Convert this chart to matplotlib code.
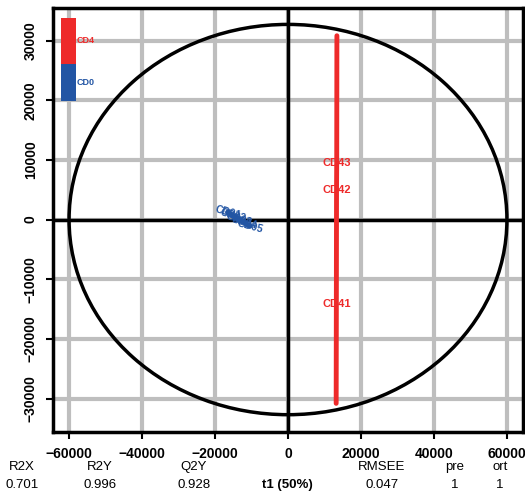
import matplotlib
matplotlib.use("Agg")
import matplotlib.pyplot as plt
from matplotlib.patches import Ellipse, Rectangle

plt.rcParams['font.family'] = ['Liberation Sans', 'DejaVu Sans']

# CD4 group (red): scores along the vertical band
cd4_t1 = [13400, 13350, 13300, 13250, 13200]
cd4_to1 = [30800, 9500, 5000, -14200, -30800]
cd4_labels = ["", "CD43", "CD42", "CD41", ""]

# CD0 group (blue): tight cluster left of the origin
cd0_t1 = [-16500, -15000, -13500, -12000, -10500]
cd0_to1 = [1200, 600, 0, -500, -1100]
cd0_labels = ["CD01", "CD02", "CD03", "CD04", "CD05"]

ticks_x = [-60000, -40000, -20000, 0, 20000, 40000, 60000]
ticks_y = [-30000, -20000, -10000, 0, 10000, 20000, 30000]

stat_names = ["R2X", "R2Y", "Q2Y", "RMSEE", "pre", "ort"]
stat_values = ["0.701", "0.996", "0.928", "0.047", "1", "1"]
stat_xpos = [22, 100, 194, 382, 455, 500]

red = "#EE2A2A"
blue = "#2255A4"

fig = plt.figure(figsize=(5.25, 4.97), dpi=100)
ax = fig.add_axes([53/525, 65/497, 470/525, 424/497])
ax.set_xlim(-64400, 64400)
ax.set_ylim(-35600, 35450)

for v in ticks_x:
    ax.axvline(v, color="#BEBEBE", lw=3, zorder=0)
for v in ticks_y:
    ax.axhline(v, color="#BEBEBE", lw=3, zorder=0)
ax.axvline(0, color="black", lw=2.5, zorder=1)
ax.axhline(0, color="black", lw=2.5, zorder=1)

ax.add_patch(Ellipse((0, 0), 2*60000, 2*32700, fill=False, color="black", lw=2.5, zorder=2))

ax.plot(cd4_t1, cd4_to1, color=red, lw=3.5, zorder=3, solid_capstyle="round")
for x, y, s in zip(cd4_t1, cd4_to1, cd4_labels):
    if s:
        ax.text(x, y, s, color=red, fontsize=8, fontweight="bold", ha="center", va="center", zorder=4)

ax.plot(cd0_t1, cd0_to1, color=blue, lw=4, zorder=3, solid_capstyle="round")
for x, y, s in zip(cd0_t1, cd0_to1, cd0_labels):
    ax.text(x, y, s, color=blue, fontsize=7.5, fontweight="bold", ha="center", va="center",
            rotation=-15, zorder=4)

# group colour key
ax.add_patch(Rectangle((-62200, 26000), 4100, 7800, color=red, zorder=5, lw=0))
ax.add_patch(Rectangle((-62200, 19900), 4100, 6100, color=blue, zorder=5, lw=0))
ax.text(-57900, 30000, "CD4", color=red, fontsize=6.5, fontweight="bold", va="center", zorder=5)
ax.text(-57900, 23000, "CD0", color=blue, fontsize=6.5, fontweight="bold", va="center", zorder=5)

ax.set_xticks(ticks_x)
ax.set_yticks(ticks_y)
ax.set_xticklabels([f"{t}".replace("-", "\u2212") for t in ticks_x], fontweight="bold", fontsize=10)
ax.set_yticklabels([f"{t}".replace("-", "\u2212") for t in ticks_y], fontweight="bold", fontsize=10,
                   rotation=90, va="center")
ax.tick_params(length=5, width=1.5, pad=6)
for sp in ax.spines.values():
    sp.set_linewidth(2.5)

fig.text(-0.022, 1 - 218/497, "to1", rotation=90, fontsize=10, fontweight="bold", va="center")

for x, n, v in zip(stat_xpos, stat_names, stat_values):
    fig.text(x/525, 1 - 467/497, n, ha="center", va="center", fontsize=9.5)
    fig.text(x/525, 1 - 485/497, v, ha="center", va="center", fontsize=9.5)
fig.text(287/525, 1 - 485/497, "t1 (50%)", ha="center", va="center", fontsize=9.5, fontweight="bold")

fig.savefig("out.png", dpi=100)
